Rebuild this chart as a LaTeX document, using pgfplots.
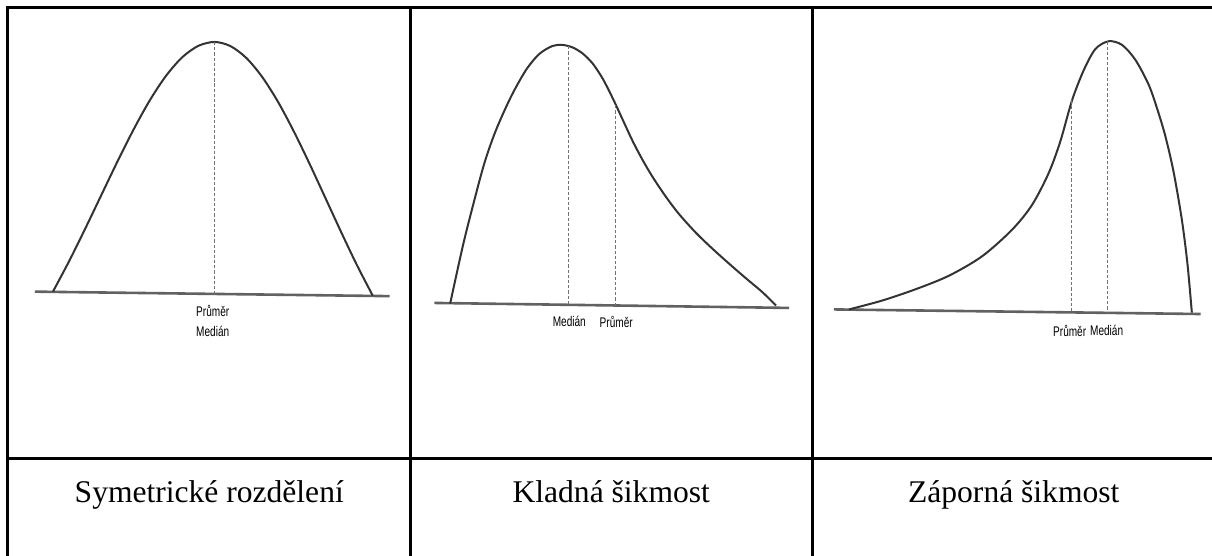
\documentclass[border=0pt]{standalone}
\usepackage{fontspec}
\setmainfont{Liberation Serif}
\newfontfamily\labelfont{Liberation Sans}
\usepackage{pgfplots}
\pgfplotsset{compat=1.18}

% density curves, base lines and the mean/median markers
\pgfplotsset{
  density curve/.style={color=black!80, line width=1pt, smooth, tension=0.5, mark=none},
  base line/.style={color=black!62, line width=1.3pt, mark=none},
  centre line/.style={color=black!55, line width=0.5pt, dash pattern=on 1.6pt off 1pt, mark=none},
}
\tikzset{
  small label/.style={font=\labelfont\fontsize{7}{8}\selectfont, xscale=0.72, inner sep=0pt},
  cell caption/.style={font=\fontsize{15.8}{19}\selectfont, inner sep=0pt, anchor=base},
  table rule/.style={line width=1.5pt, line cap=rect},
}

\begin{document}
\begin{tikzpicture}
\begin{axis}[
  x=0.5pt, y=0.5pt, scale only axis,
  xmin=0, xmax=1212, ymin=0, ymax=555, y dir=reverse,
  hide axis, clip=false,
]
\path (axis cs:0,0) rectangle (axis cs:1212,555);

% table rules
\draw[table rule] (axis cs:8,8) -- (axis cs:1212,8);
\draw[table rule] (axis cs:8,8) -- (axis cs:8,555);
\draw[table rule] (axis cs:411,8) -- (axis cs:411,555);
\draw[table rule] (axis cs:813,8) -- (axis cs:813,555);
\draw[table rule] (axis cs:8,459) -- (axis cs:1212,459);

% ---- symmetric distribution ----
\addplot[base line] coordinates {(35,292) (390,296.5)};
\addplot[density curve] coordinates {
 (53,292) (69.2,261.5) (85.4,228.8) (101.6,195.0) (117.8,161.3) (134,129.2)
 (150.2,100.1) (166.4,75.7) (182.6,57.2) (198.8,45.8) (215,42)
 (230.8,46.2) (246.6,58.0) (262.4,76.9) (278.2,101.7) (294,131.2)
 (309.8,163.7) (325.6,197.8) (341.4,232.0) (357.2,265.1) (373.2,296)};
\addplot[centre line] coordinates {(215,42) (215,294)};
\node[small label] at (axis cs:213,311) {Průměr};
\node[small label] at (axis cs:213,332) {Medián};
\node[cell caption] at (axis cs:209.5,503) {Symetrické rozdělení};

% ---- positive skew ----
\addplot[base line] coordinates {(435,303.3) (790,308.3)};
\addplot[density curve] coordinates {
 (450.7,304) (463.3,246.7) (473.3,206.7) (485,163.3) (496.7,130)
 (511.7,96.7) (526.7,70) (540,54) (553.3,46) (563.3,45) (573.3,47.5)
 (583.3,53.5) (593.3,63.5) (603.3,78.5) (613.3,98) (623.3,119.5) (633.3,141)
 (643.3,160) (653.3,177) (666.7,197) (680,214.5) (696.7,233) (713.3,249)
 (730,264) (746.7,278.5) (763.3,292.5) (777,306)};
\addplot[centre line] coordinates {(569.3,46.3) (569.3,306)};
\addplot[centre line] coordinates {(616.7,105.3) (616.7,306.6)};
\node[small label] at (axis cs:570,322) {Medián};
\node[small label] at (axis cs:617,322) {Průměr};
\node[cell caption] at (axis cs:612,503) {Kladná šikmost};

% ---- negative skew ----
\addplot[base line] coordinates {(835,309.8) (1202,314.4)};
\addplot[density curve] coordinates {
 (850,309.8) (883.3,300.9) (916.7,289.6) (950,276.1) (983.3,256.6)
 (1013.3,230) (1033.3,205.2) (1050,173.2) (1061.7,141.3) (1073.3,100.6)
 (1085,70.4) (1096.7,49.1) (1110,41.3) (1123.3,44.9) (1136.7,59.8)
 (1150,84.6) (1158.3,108) (1166.7,136) (1175,172) (1183.3,220)
 (1189,265) (1193.3,313)};
\addplot[centre line] coordinates {(1073.3,100.6) (1073.3,313)};
\addplot[centre line] coordinates {(1109,41.5) (1109,313.5)};
\node[small label] at (axis cs:1071,331) {Průměr};
\node[small label] at (axis cs:1108,331) {Medián};
\node[cell caption] at (axis cs:1015,503) {Záporná šikmost};
\end{axis}
\end{tikzpicture}
\end{document}
